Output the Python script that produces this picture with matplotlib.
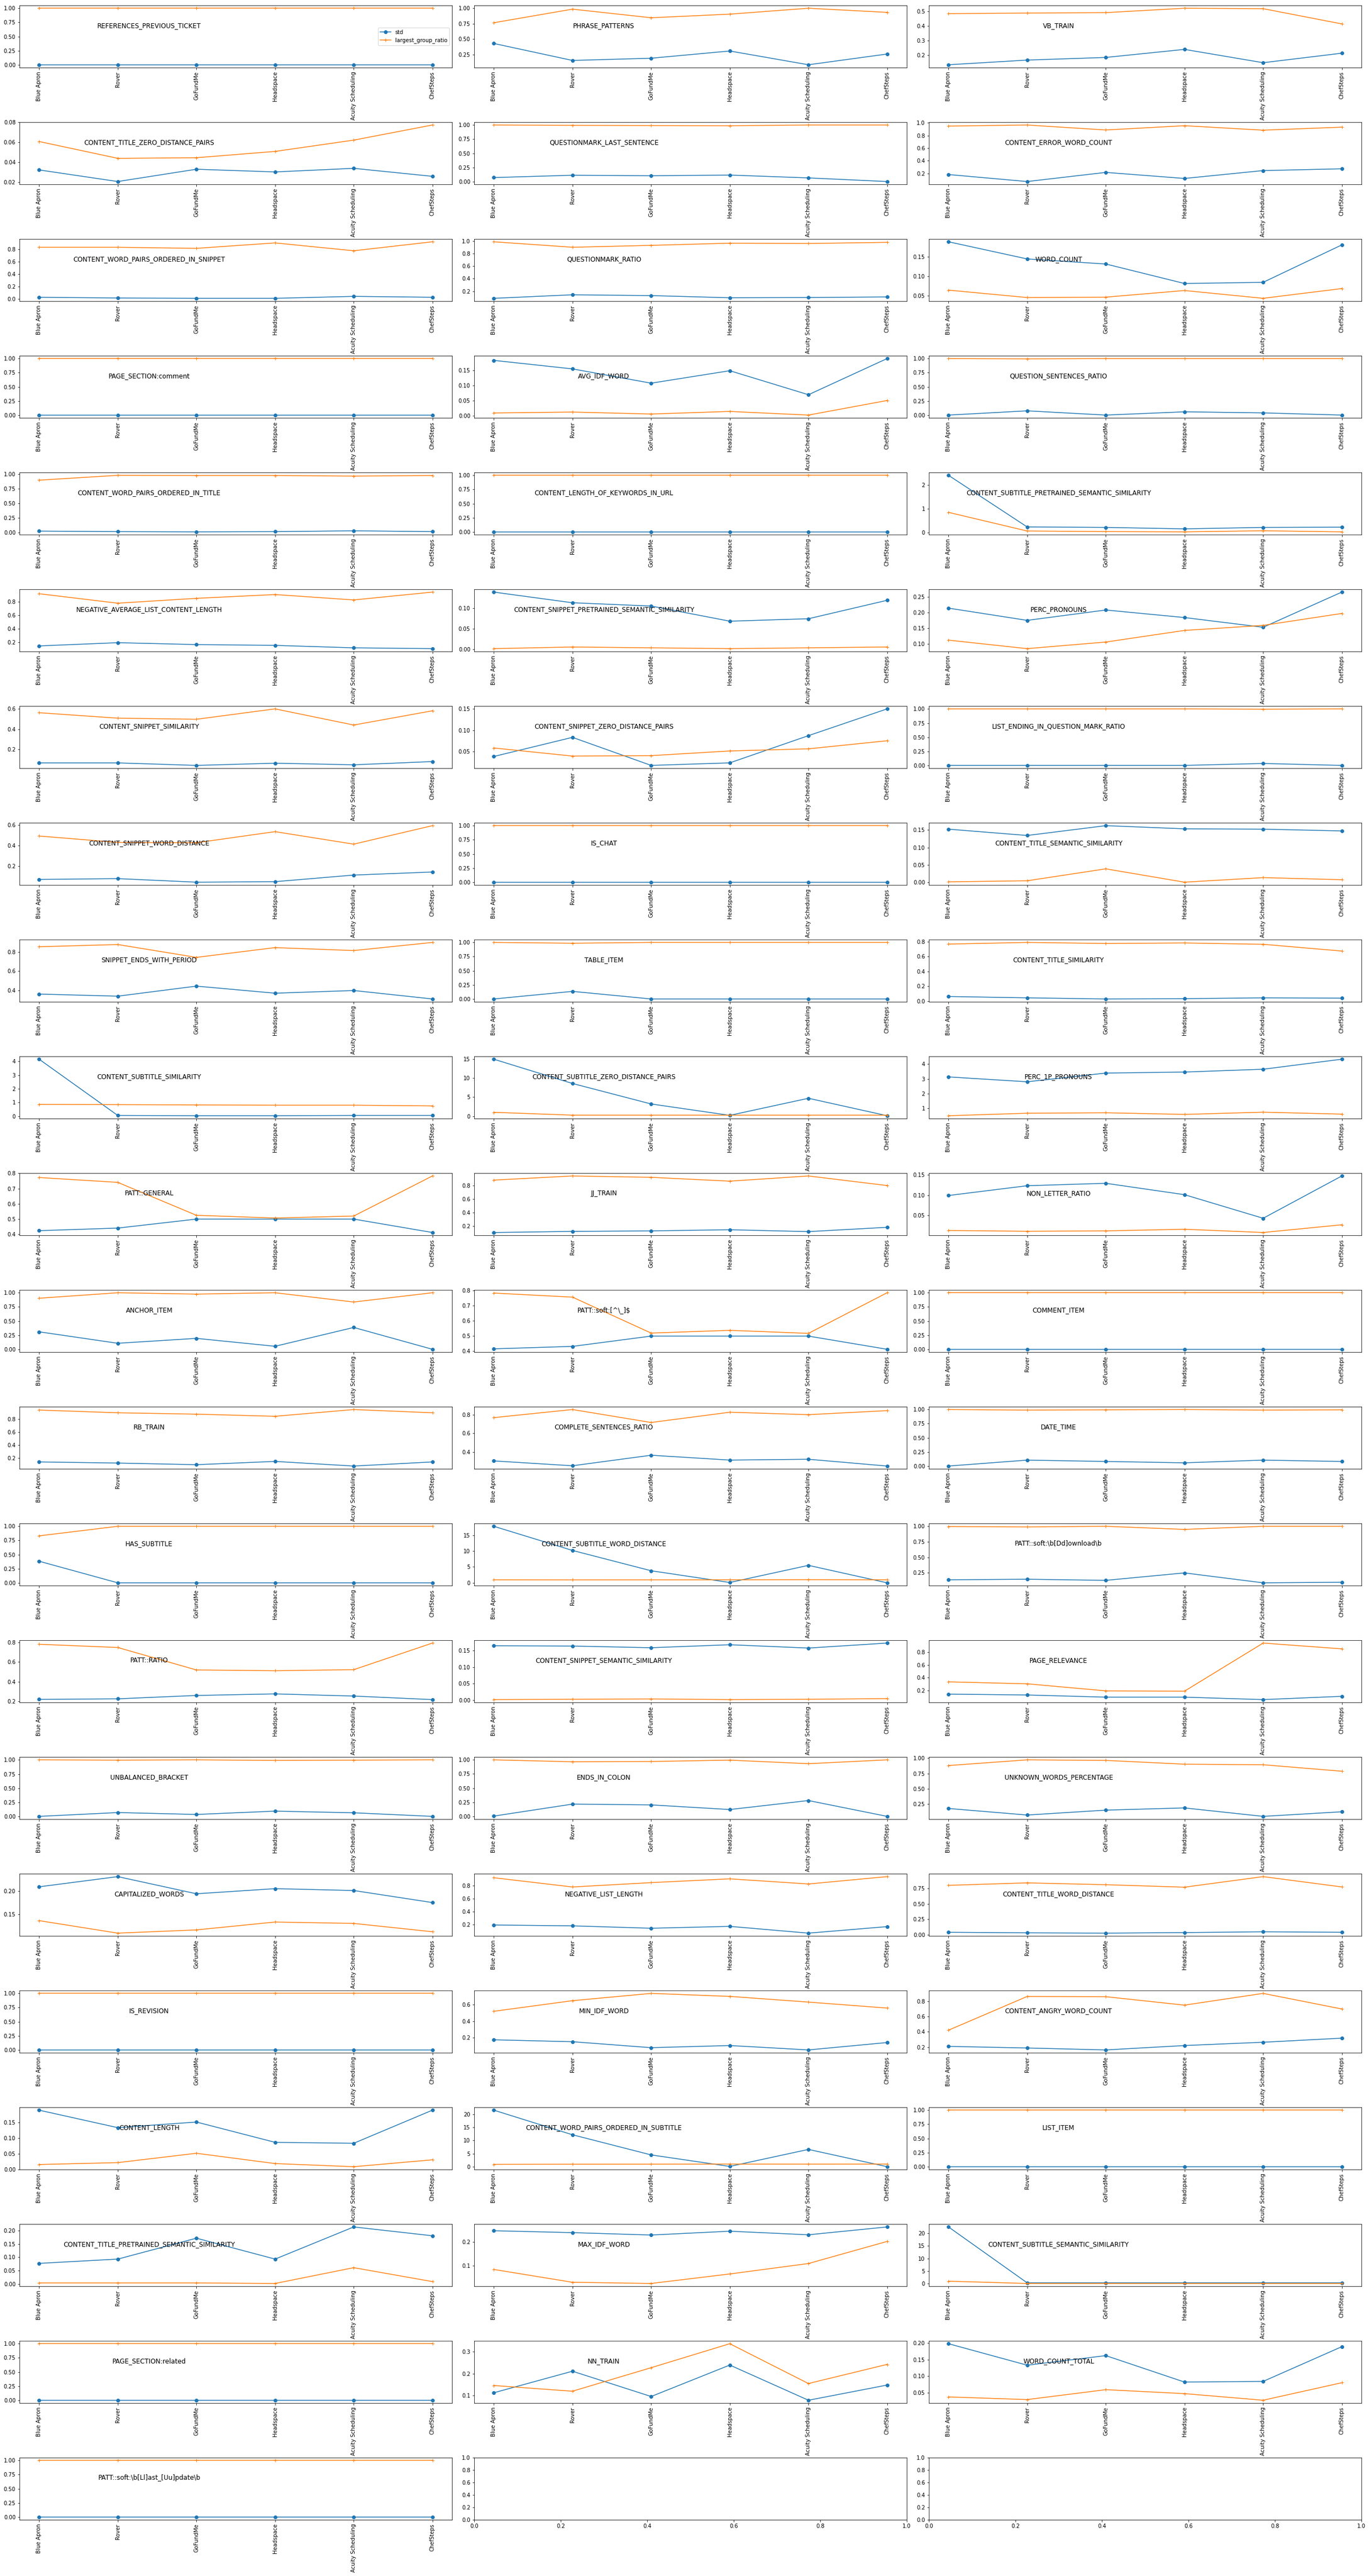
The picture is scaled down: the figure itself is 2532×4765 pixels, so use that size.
import matplotlib
matplotlib.use("Agg")
import matplotlib.pyplot as plt

companies = ["Blue Apron", "Rover", "GoFundMe", "Headspace", "Acuity Scheduling", "ChefSteps"]

features = [
    "REFERENCES_PREVIOUS_TICKET", "PHRASE_PATTERNS", "VB_TRAIN",
    "CONTENT_TITLE_ZERO_DISTANCE_PAIRS", "QUESTIONMARK_LAST_SENTENCE", "CONTENT_ERROR_WORD_COUNT",
    "CONTENT_WORD_PAIRS_ORDERED_IN_SNIPPET", "QUESTIONMARK_RATIO", "WORD_COUNT",
    "PAGE_SECTION:comment", "AVG_IDF_WORD", "QUESTION_SENTENCES_RATIO",
    "CONTENT_WORD_PAIRS_ORDERED_IN_TITLE", "CONTENT_LENGTH_OF_KEYWORDS_IN_URL", "CONTENT_SUBTITLE_PRETRAINED_SEMANTIC_SIMILARITY",
    "NEGATIVE_AVERAGE_LIST_CONTENT_LENGTH", "CONTENT_SNIPPET_PRETRAINED_SEMANTIC_SIMILARITY", "PERC_PRONOUNS",
    "CONTENT_SNIPPET_SIMILARITY", "CONTENT_SNIPPET_ZERO_DISTANCE_PAIRS", "LIST_ENDING_IN_QUESTION_MARK_RATIO",
    "CONTENT_SNIPPET_WORD_DISTANCE", "IS_CHAT", "CONTENT_TITLE_SEMANTIC_SIMILARITY",
    "SNIPPET_ENDS_WITH_PERIOD", "TABLE_ITEM", "CONTENT_TITLE_SIMILARITY",
    "CONTENT_SUBTITLE_SIMILARITY", "CONTENT_SUBTITLE_ZERO_DISTANCE_PAIRS", "PERC_1P_PRONOUNS",
    "PATT::GENERAL", "JJ_TRAIN", "NON_LETTER_RATIO",
    "ANCHOR_ITEM", r"PATT::soft:[^\_]$", "COMMENT_ITEM",
    "RB_TRAIN", "COMPLETE_SENTENCES_RATIO", "DATE_TIME",
    "HAS_SUBTITLE", "CONTENT_SUBTITLE_WORD_DISTANCE", r"PATT::soft:\b[Dd]ownload\b",
    "PATT::RATIO", "CONTENT_SNIPPET_SEMANTIC_SIMILARITY", "PAGE_RELEVANCE",
    "UNBALANCED_BRACKET", "ENDS_IN_COLON", "UNKNOWN_WORDS_PERCENTAGE",
    "CAPITALIZED_WORDS", "NEGATIVE_LIST_LENGTH", "CONTENT_TITLE_WORD_DISTANCE",
    "IS_REVISION", "MIN_IDF_WORD", "CONTENT_ANGRY_WORD_COUNT",
    "CONTENT_LENGTH", "CONTENT_WORD_PAIRS_ORDERED_IN_SUBTITLE", "LIST_ITEM",
    "CONTENT_TITLE_PRETRAINED_SEMANTIC_SIMILARITY", "MAX_IDF_WORD", "CONTENT_SUBTITLE_SEMANTIC_SIMILARITY",
    "PAGE_SECTION:related", "NN_TRAIN", "WORD_COUNT_TOTAL",
    r"PATT::soft:\b[Ll]ast_[Uu]pdate\b",
]

std_vals = [
    [0, 0, 0, 0, 0, 0],
    [0.429, 0.154, 0.19, 0.307, 0.084, 0.258],
    [0.135, 0.167, 0.185, 0.240, 0.149, 0.214],
    [0.0325, 0.0209, 0.0332, 0.0305, 0.0341, 0.0261],
    [0.073, 0.114, 0.105, 0.117, 0.067, 0.003],
    [0.18, 0.069, 0.214, 0.118, 0.243, 0.271],
    [0.03, 0.018, 0.013, 0.013, 0.044, 0.03],
    [0.087, 0.143, 0.13, 0.096, 0.1, 0.109],
    [0.188, 0.144, 0.131, 0.081, 0.084, 0.180],
    [0, 0, 0, 0, 0, 0],
    [0.183, 0.155, 0.108, 0.149, 0.07, 0.189],
    [0.0, 0.075, 0.0, 0.058, 0.039, 0.0],
    [0.023, 0.014, 0.01, 0.014, 0.028, 0.014],
    [0, 0, 0, 0, 0, 0],
    [2.4, 0.24, 0.22, 0.16, 0.22, 0.23],
    [0.148, 0.196, 0.168, 0.156, 0.12, 0.108],
    [0.139, 0.113, 0.105, 0.068, 0.074, 0.119],
    [0.214, 0.175, 0.208, 0.184, 0.153, 0.265],
    [0.065, 0.065, 0.04, 0.062, 0.046, 0.078],
    [0.038, 0.083, 0.017, 0.023, 0.087, 0.15],
    [0.005, 0.005, 0.005, 0.005, 0.039, 0.005],
    [0.066, 0.074, 0.039, 0.044, 0.109, 0.139],
    [0, 0, 0, 0, 0, 0],
    [0.152, 0.134, 0.162, 0.153, 0.152, 0.147],
    [0.36, 0.338, 0.443, 0.369, 0.397, 0.309],
    [0.0, 0.134, 0.0, 0.0, 0.0, 0.0],
    [0.062, 0.044, 0.029, 0.033, 0.044, 0.04],
    [4.16, 0.05, 0.03, 0.03, 0.05, 0.05],
    [15.0, 8.6, 3.2, 0.2, 4.7, 0.1],
    [3.13, 2.8, 3.39, 3.46, 3.65, 4.33],
    [0.424, 0.441, 0.5, 0.5, 0.5, 0.412],
    [0.107, 0.123, 0.131, 0.148, 0.12, 0.184],
    [0.099, 0.123, 0.129, 0.101, 0.043, 0.147],
    [0.309, 0.106, 0.193, 0.053, 0.386, 0.0],
    [0.416, 0.432, 0.5, 0.5, 0.5, 0.413],
    [0, 0, 0, 0, 0, 0],
    [0.142, 0.125, 0.1, 0.15, 0.079, 0.142],
    [0.304, 0.252, 0.365, 0.313, 0.322, 0.249],
    [0.0, 0.105, 0.081, 0.057, 0.105, 0.081],
    [0.382, 0.0, 0.0, 0.0, 0.0, 0.0],
    [17.8, 10.2, 3.8, 0.1, 5.5, 0.0],
    [0.137, 0.146, 0.128, 0.248, 0.088, 0.097],
    [0.22, 0.226, 0.26, 0.276, 0.254, 0.218],
    [0.164, 0.163, 0.158, 0.167, 0.157, 0.172],
    [0.145, 0.132, 0.098, 0.098, 0.06, 0.111],
    [0.005, 0.072, 0.039, 0.097, 0.068, 0.005],
    [0.005, 0.217, 0.203, 0.121, 0.28, 0.0],
    [0.178, 0.071, 0.151, 0.187, 0.049, 0.124],
    [0.209, 0.231, 0.194, 0.205, 0.201, 0.175],
    [0.196, 0.183, 0.146, 0.175, 0.071, 0.171],
    [0.04, 0.031, 0.026, 0.035, 0.048, 0.04],
    [0, 0, 0, 0, 0, 0],
    [0.174, 0.151, 0.079, 0.105, 0.052, 0.141],
    [0.21, 0.189, 0.164, 0.221, 0.264, 0.317],
    [0.189, 0.133, 0.151, 0.086, 0.083, 0.189],
    [21.6, 12.2, 4.5, 0.1, 6.6, 0.0],
    [0, 0, 0, 0, 0, 0],
    [0.077, 0.093, 0.171, 0.093, 0.213, 0.18],
    [0.248, 0.24, 0.23, 0.246, 0.231, 0.264],
    [22.5, 0.3, 0.3, 0.3, 0.3, 0.3],
    [0, 0, 0, 0, 0, 0],
    [0.113, 0.211, 0.096, 0.239, 0.079, 0.148],
    [0.198, 0.133, 0.162, 0.082, 0.084, 0.189],
    [0, 0, 0, 0, 0, 0],
]

lgr_vals = [
    [1, 1, 1, 1, 1, 1],
    [0.765, 0.985, 0.846, 0.904, 1.0, 0.933],
    [0.484, 0.488, 0.491, 0.521, 0.518, 0.414],
    [0.0609, 0.0441, 0.0447, 0.051, 0.0623, 0.0774],
    [1.0, 0.994, 0.99, 0.987, 1.0, 1.0],
    [0.949, 0.966, 0.887, 0.955, 0.884, 0.932],
    [0.83, 0.83, 0.813, 0.90, 0.774, 0.918],
    [0.987, 0.9, 0.93, 0.965, 0.96, 0.978],
    [0.064, 0.045, 0.046, 0.063, 0.043, 0.068],
    [1, 1, 1, 1, 1, 1],
    [0.01, 0.013, 0.0065, 0.015, 0.003, 0.051],
    [1.0, 0.995, 1.0, 1.0, 1.0, 1.0],
    [0.897, 0.98, 0.977, 0.977, 0.967, 0.977],
    [1, 1, 1, 1, 1, 1],
    [0.85, 0.07, 0.046, 0.034, 0.08, 0.034],
    [0.92, 0.78, 0.852, 0.908, 0.828, 0.944],
    [0.001, 0.005, 0.003, 0.001, 0.003, 0.005],
    [0.112, 0.085, 0.106, 0.143, 0.159, 0.197],
    [0.562, 0.508, 0.497, 0.6, 0.44, 0.581],
    [0.058, 0.039, 0.04, 0.051, 0.056, 0.075],
    [1.0, 1.0, 1.0, 1.0, 0.995, 1.0],
    [0.493, 0.43, 0.427, 0.536, 0.413, 0.595],
    [1, 1, 1, 1, 1, 1],
    [0.002, 0.005, 0.039, 0.001, 0.014, 0.008],
    [0.854, 0.877, 0.743, 0.845, 0.814, 0.899],
    [1.0, 0.986, 1.0, 1.0, 1.0, 1.0],
    [0.767, 0.789, 0.775, 0.782, 0.764, 0.673],
    [0.855, 0.84, 0.82, 0.8, 0.8, 0.75],
    [1.0, 0.25, 0.25, 0.25, 0.25, 0.25],
    [0.5, 0.67, 0.7, 0.59, 0.74, 0.61],
    [0.773, 0.741, 0.525, 0.507, 0.52, 0.783],
    [0.885, 0.946, 0.926, 0.869, 0.946, 0.804],
    [0.013, 0.011, 0.012, 0.016, 0.008, 0.027],
    [0.903, 1.0, 0.976, 1.0, 0.836, 1.0],
    [0.784, 0.757, 0.52, 0.538, 0.518, 0.786],
    [1, 1, 1, 1, 1, 1],
    [0.938, 0.896, 0.875, 0.842, 0.946, 0.896],
    [0.768, 0.855, 0.716, 0.826, 0.8, 0.843],
    [1.0, 0.99, 0.995, 1.0, 0.99, 0.995],
    [0.831, 1.0, 1.0, 1.0, 1.0, 1.0],
    [0.95, 0.93, 0.94, 0.95, 1.0, 0.95],
    [0.996, 0.99, 1.0, 0.95, 1.0, 1.0],
    [0.78, 0.747, 0.519, 0.511, 0.522, 0.792],
    [0.002, 0.003, 0.004, 0.002, 0.003, 0.005],
    [0.336, 0.306, 0.196, 0.191, 0.94, 0.85],
    [1.0, 0.995, 1.0, 0.99, 0.995, 1.0],
    [1.0, 0.966, 0.971, 0.995, 0.932, 1.0],
    [0.88, 0.973, 0.964, 0.902, 0.893, 0.787],
    [0.136, 0.109, 0.116, 0.133, 0.13, 0.112],
    [0.921, 0.779, 0.846, 0.904, 0.825, 0.938],
    [0.8, 0.84, 0.81, 0.77, 0.941, 0.774],
    [1, 1, 1, 1, 1, 1],
    [0.518, 0.646, 0.734, 0.698, 0.629, 0.557],
    [0.421, 0.86, 0.857, 0.747, 0.9, 0.697],
    [0.015, 0.021, 0.051, 0.018, 0.008, 0.03],
    [0.9, 0.95, 0.97, 1.0, 0.98, 1.0],
    [1, 1, 1, 1, 1, 1],
    [0.004, 0.004, 0.004, 0.002, 0.061, 0.009],
    [0.085, 0.031, 0.026, 0.066, 0.11, 0.203],
    [0.95, 0.05, 0.05, 0.05, 0.05, 0.05],
    [1, 1, 1, 1, 1, 1],
    [0.146, 0.12, 0.227, 0.336, 0.155, 0.242],
    [0.037, 0.029, 0.059, 0.047, 0.027, 0.08],
    [1, 1, 1, 1, 1, 1],
]

plt.rcParams['font.family'] = ['DejaVu Sans']
nrows, ncols = 22, 3
fig, axes = plt.subplots(nrows, ncols, figsize=(2532 / 72, 4765 / 72), dpi=72)
fig.subplots_adjust(left=0.0142, right=0.9945, top=0.9979, bottom=0.0218,
                    wspace=0.051, hspace=0.878)

flat = axes.flatten()
for i, name in enumerate(features):
    ax = flat[i]
    ax.plot(companies, std_vals[i], marker='o', color='tab:blue', label='std')
    ax.plot(companies, lgr_vals[i], marker='+', color='tab:orange', label='largest_group_ratio')
    ax.text(0.3, 0.675, name, transform=ax.transAxes, ha='center', va='center', fontsize=12)
    ax.tick_params(axis='x', labelrotation=90)
    if i == 0:
        ax.legend(loc='center right')

fig.savefig("out.png", dpi=72)
